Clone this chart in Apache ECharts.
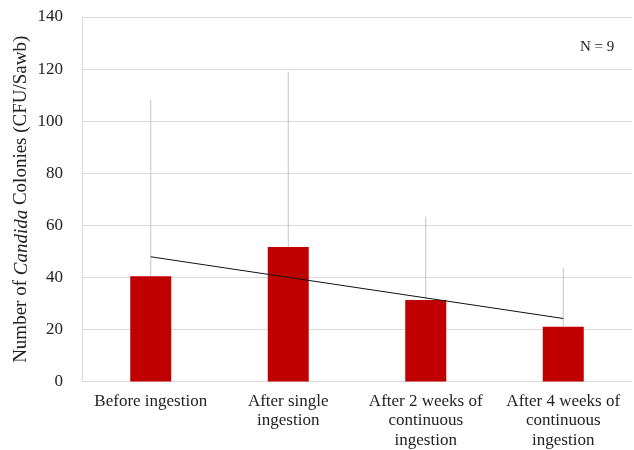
<!DOCTYPE html>
<html>
<head>
<meta charset="utf-8">
<script src="https://cdn.jsdelivr.net/npm/echarts@6/dist/echarts.min.js"></script>
<style>html,body{margin:0;padding:0;background:#fff;}#c{width:634px;height:450px;}</style>
</head>
<body>
<div id="c"></div>
<script>
var categories = ['Before ingestion', 'After single\ningestion', 'After 2 weeks of\ncontinuous\ningestion', 'After 4 weeks of\ncontinuous\ningestion'];
var means = [40.4, 51.7, 31.3, 21];
var errorTops = [108.2, 119, 63.2, 43.6];
var trendValues = [47.9, null, null, 24.2];
var yTicks = {min: 0, max: 140, interval: 20};

var font = '"Liberation Serif", "Times New Roman", serif';
var chart = echarts.init(document.getElementById('c'));
var errData = means.map(function (m, i) { return [i, m, errorTops[i]]; });

chart.setOption({
  animation: false,
  grid: {left: 82, right: 2, top: 17, bottom: 68},
  xAxis: {
    type: 'category',
    data: categories,
    axisLine: {show: true, lineStyle: {color: '#d9d9d9', width: 1}},
    axisTick: {show: false},
    axisLabel: {fontFamily: font, fontSize: 17, color: '#222', margin: 10, lineHeight: 19.5, interval: 0}
  },
  yAxis: {
    type: 'value',
    min: yTicks.min, max: yTicks.max, interval: yTicks.interval,
    axisLine: {show: true, lineStyle: {color: '#d9d9d9', width: 1}},
    axisTick: {show: false},
    splitLine: {lineStyle: {color: '#d9d9d9', width: 1}},
    axisLabel: {fontFamily: font, fontSize: 17, color: '#222', margin: 19},
    name: '{n|Number of }{i|Candida}{n| Colonies (CFU/Sawb)}',
    nameLocation: 'middle',
    nameGap: 51,
    nameMoveOverlap: false,
    nameRotate: 90,
    nameTextStyle: {
      rich: {
        n: {fontFamily: font, fontSize: 19, color: '#222'},
        i: {fontFamily: font, fontSize: 19, color: '#222', fontStyle: 'italic'}
      }
    }
  },
  series: [
    {
      type: 'custom',
      z: 1,
      data: errData,
      renderItem: function (params, api) {
        var x = api.value(0);
        var p1 = api.coord([x, api.value(1)]);
        var p2 = api.coord([x, api.value(2)]);
        return {type: 'line', shape: {x1: p1[0], y1: p1[1], x2: p2[0], y2: p2[1]}, style: {stroke: '#c4c4c4', lineWidth: 1}};
      }
    },
    {
      type: 'bar',
      z: 2,
      data: means,
      barWidth: 41,
      itemStyle: {color: '#c00000'}
    },
    {
      type: 'line',
      z: 3,
      data: trendValues,
      connectNulls: true,
      symbol: 'none',
      lineStyle: {color: '#111', width: 1}
    }
  ],
  graphic: [
    {type: 'text', left: 580, top: 40, style: {text: 'N = 9', fontFamily: font, fontSize: 15, fill: '#222'}}
  ]
});
</script>
</body>
</html>
